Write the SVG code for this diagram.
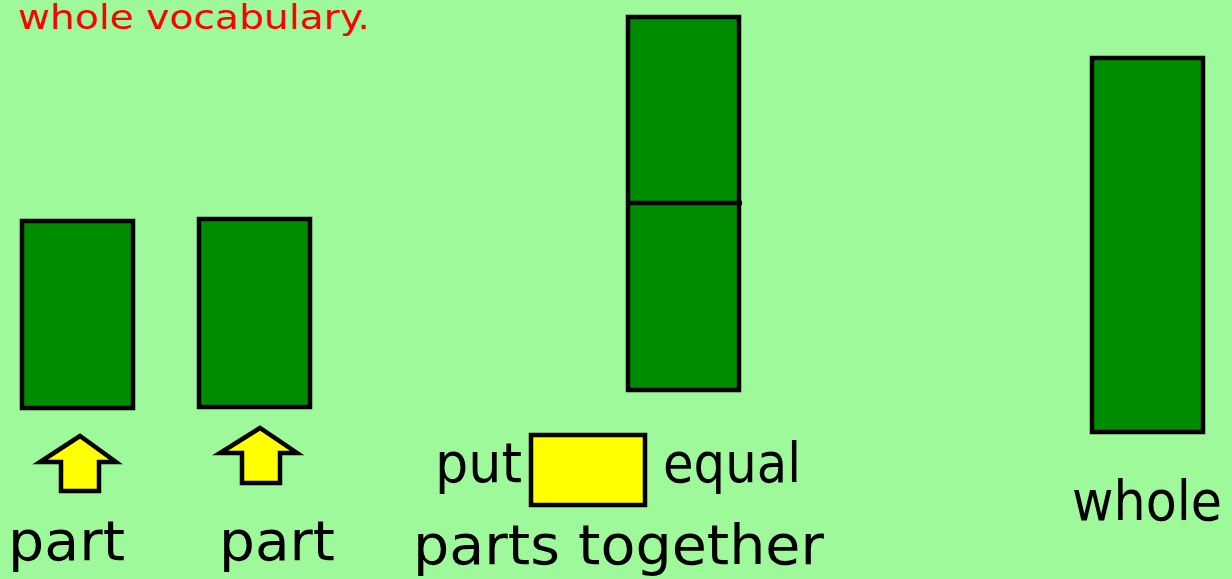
<svg xmlns="http://www.w3.org/2000/svg" width="1232" height="579" viewBox="0 0 1232 579">
<style>
.bar{fill:#008C00;stroke:#000;stroke-width:4.5}
.yel{fill:#FFFF00;stroke:#000;stroke-width:4.5;stroke-linejoin:miter}
.lbl{font-family:"Comic Sans MS","DejaVu Sans",sans-serif;font-size:56px;fill:#000}
.red{font-family:"Comic Sans MS","DejaVu Sans",sans-serif;font-size:34px;fill:#FF0000}
</style>
<rect x="0" y="0" width="1232" height="579" fill="#9EF99A"/>
<text class="red" x="18" y="29" textLength="352" lengthAdjust="spacingAndGlyphs">whole vocabulary.</text>
<g id="part1">
<rect class="bar" x="22" y="221" width="111" height="187"/>
<polygon class="yel" points="80,436 40,462 61,462 61,491 99,491 99,462 116,462"/>
<text class="lbl" x="8" y="560" textLength="117" lengthAdjust="spacingAndGlyphs">part</text>
</g>
<g id="part2">
<rect class="bar" x="199" y="219" width="111" height="188"/>
<polygon class="yel" points="260,428 220,453 242,453 242,483 280,483 280,453 297,453"/>
<text class="lbl" x="219" y="560" textLength="116" lengthAdjust="spacingAndGlyphs">part</text>
</g>
<g id="combined">
<rect class="bar" x="628" y="17" width="111" height="373"/>
<line x1="628" y1="203" x2="742" y2="203" stroke="#000" stroke-width="4.5"/>
</g>
<g id="sentence">
<text class="lbl" x="435" y="482" textLength="87" lengthAdjust="spacingAndGlyphs">put</text>
<rect class="yel" x="531" y="435" width="114" height="70"/>
<text class="lbl" x="663" y="482" textLength="138" lengthAdjust="spacingAndGlyphs">equal</text>
<text class="lbl" x="413" y="564" textLength="411" lengthAdjust="spacingAndGlyphs">parts together</text>
</g>
<g id="whole">
<rect class="bar" x="1092" y="58" width="111" height="374"/>
<text class="lbl" x="1072" y="520" font-size="50" textLength="150" lengthAdjust="spacingAndGlyphs">whole</text>
</g>
<g id="connectors"></g>
</svg>
